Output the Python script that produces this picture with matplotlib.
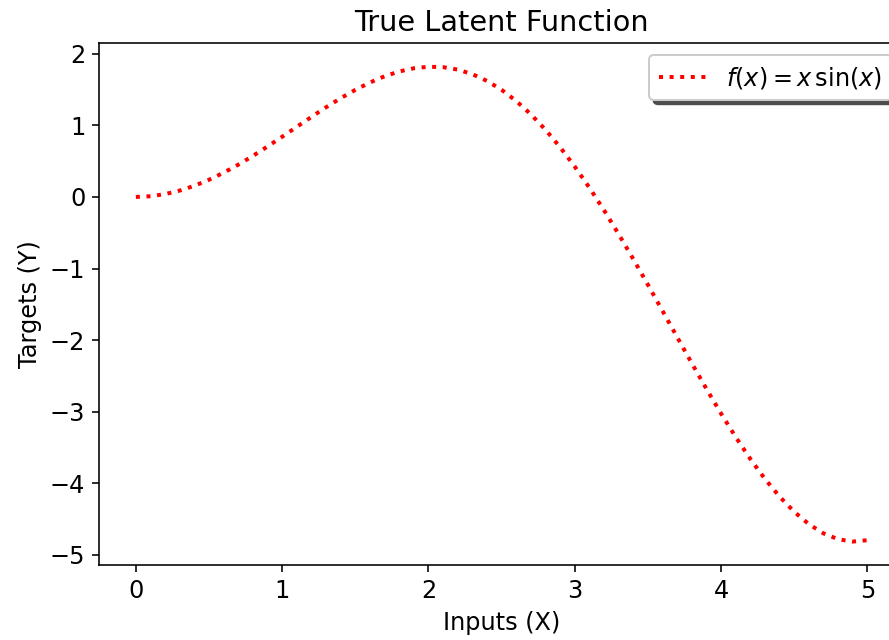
import matplotlib
matplotlib.use("Agg")
import matplotlib.pyplot as plt

# Values
inputs_x = [0.0, 0.1, 0.2, 0.3, 0.4, 0.5, 0.6, 0.7, 0.8, 0.9,
            1.0, 1.1, 1.2, 1.3, 1.4, 1.5, 1.6, 1.7, 1.8, 1.9,
            2.0, 2.1, 2.2, 2.3, 2.4, 2.5, 2.6, 2.7, 2.8, 2.9,
            3.0, 3.1, 3.2, 3.3, 3.4, 3.5, 3.6, 3.7, 3.8, 3.9,
            4.0, 4.1, 4.2, 4.3, 4.4, 4.5, 4.6, 4.7, 4.8, 4.9, 5.0]
targets_y = [0.000, 0.010, 0.040, 0.089, 0.156, 0.240, 0.339, 0.451, 0.574, 0.705,
             0.841, 0.980, 1.118, 1.253, 1.380, 1.496, 1.599, 1.686, 1.753, 1.798,
             1.819, 1.813, 1.779, 1.715, 1.621, 1.496, 1.340, 1.154, 0.938, 0.694,
             0.423, 0.129, -0.187, -0.521, -0.869, -1.228, -1.593, -1.960, -2.325, -2.682,
             -3.027, -3.355, -3.661, -3.940, -4.187, -4.399, -4.571, -4.700, -4.782, -4.814, -4.795]

title = "True Latent Function"
xlabel = "Inputs (X)"
ylabel = "Targets (Y)"
legend_label = r"$f(x) = x\,\sin(x)$"

plt.rcParams["font.family"] = ["DejaVu Sans"]
plt.rcParams["font.size"] = 12

fig = plt.figure(figsize=(889 / 144, 640 / 144), dpi=144)
ax = fig.add_axes([99.3 / 889, (640 - 565.3) / 640, (904 - 99.3) / 889, (565.3 - 43) / 640])

ax.plot(inputs_x, targets_y, linestyle=":", color="red", linewidth=2, label=legend_label)

ax.set_title(title)
ax.set_xlabel(xlabel)
ax.set_ylabel(ylabel)
ax.legend(loc="upper right",
          shadow=dict(facecolor="#4d4d4d", edgecolor="#4d4d4d", alpha=1.0))

fig.savefig("out.png", dpi=144)
